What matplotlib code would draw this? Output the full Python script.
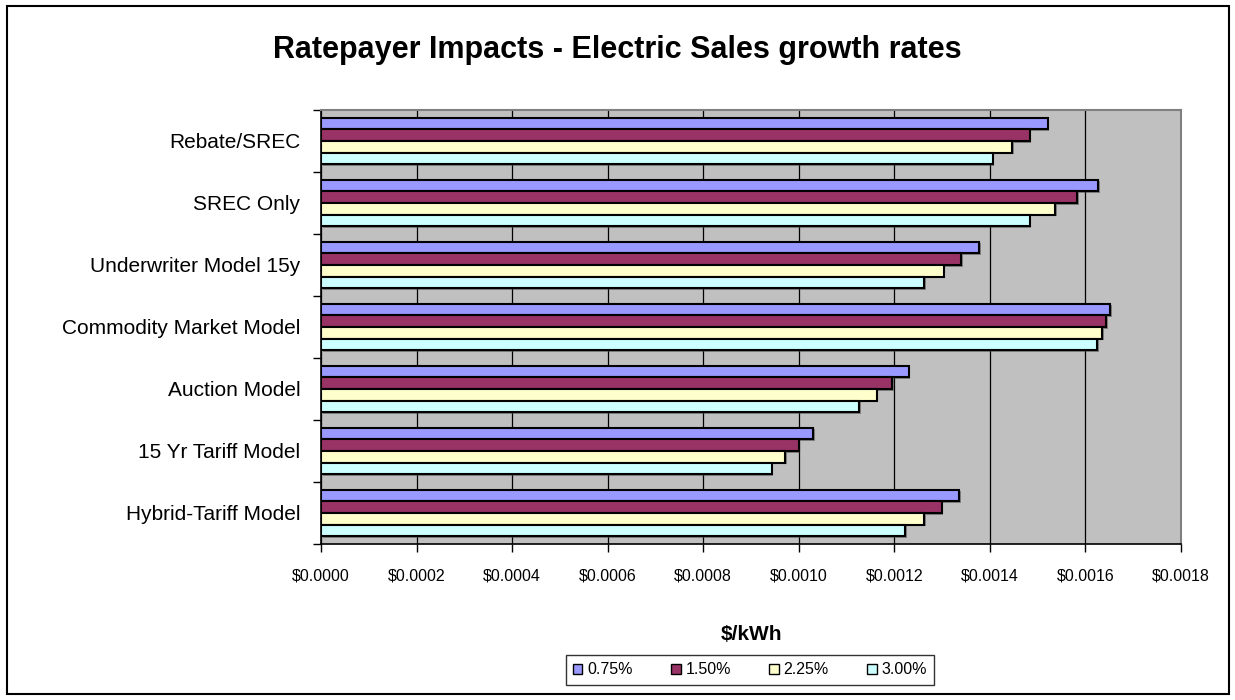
import matplotlib
matplotlib.use("Agg")
import matplotlib.pyplot as plt
import numpy as np
from matplotlib.patches import Patch, Rectangle
from matplotlib.ticker import FuncFormatter, MultipleLocator, FixedLocator
import matplotlib.patheffects as pe

plt.rcParams['font.family'] = ['Liberation Sans', 'DejaVu Sans']

categories = ["Rebate/SREC", "SREC Only", "Underwriter Model 15y",
              "Commodity Market Model", "Auction Model", "15 Yr Tariff Model",
              "Hybrid-Tariff Model"]
series_labels = ["0.75%", "1.50%", "2.25%", "3.00%"]
rate_075 = [0.001521, 0.001627, 0.001377, 0.001652, 0.001230, 0.001030, 0.001336]
rate_150 = [0.001483, 0.001583, 0.001340, 0.001644, 0.001196, 0.001000, 0.001299]
rate_225 = [0.001447, 0.001537, 0.001303, 0.001635, 0.001163, 0.000972, 0.001262]
rate_300 = [0.001406, 0.001483, 0.001262, 0.001624, 0.001127, 0.000943, 0.001222]
colors = ["#9999FF", "#993366", "#FFFFCC", "#CCFFFF"]

W, H = 1235, 700
fig = plt.figure(figsize=(W / 100, H / 100), dpi=100)
fig.patch.set_facecolor("white")

# outer chart frame
fig.patches.append(Rectangle((7 / W, 6 / H), (1229 - 7) / W, (694 - 6) / H,
                             transform=fig.transFigure, fill=False,
                             edgecolor="black", linewidth=1.5))

ax = fig.add_axes([321 / W, 156 / H, 860 / W, 434 / H])
ax.set_facecolor("#C0C0C0")

n_cat = len(categories)
bar_h = 0.188
series = [rate_075, rate_150, rate_225, rate_300]
centers = np.arange(n_cat) + 0.5
shadow = [pe.SimplePatchShadow(offset=(1.2, -1.2), shadow_rgbFace="#404040", alpha=0.5),
          pe.Normal()]
for i, (vals, col) in enumerate(zip(series, colors)):
    y = centers + (i - 1.5) * bar_h
    bars = ax.barh(y, vals, height=bar_h, color=col, edgecolor="black",
                   linewidth=1.5, zorder=3)
    for b in bars:
        b.set_path_effects(shadow)

ax.set_xlim(0, 0.0018)
ax.set_ylim(n_cat, 0)

ax.xaxis.set_major_locator(MultipleLocator(0.0002))
ax.xaxis.set_major_formatter(FuncFormatter(lambda v, p: f"${v:.4f}"))
ax.grid(axis="x", color="black", linewidth=0.9, zorder=1)
ax.set_axisbelow(True)

ax.yaxis.set_major_locator(FixedLocator(np.arange(n_cat + 1)))
ax.yaxis.set_major_formatter(FuncFormatter(lambda v, p: ""))
ax.yaxis.set_minor_locator(FixedLocator(centers))
ax.set_yticklabels(categories, minor=True)
ax.tick_params(axis="y", which="minor", length=0, pad=15, labelsize=15)
ax.tick_params(axis="y", which="major", length=6, width=1, direction="out")
ax.tick_params(axis="x", which="major", length=6, width=1, direction="out",
               labelsize=11.5, pad=12)

for side in ("top", "right"):
    ax.spines[side].set_color("#808080")
    ax.spines[side].set_linewidth(1.5)
for side in ("left", "bottom"):
    ax.spines[side].set_color("black")
    ax.spines[side].set_linewidth(1.2)

fig.text(617 / W, 1 - 50 / H, "Ratepayer Impacts - Electric Sales growth rates",
         ha="center", va="center", fontsize=22, fontweight="bold")
fig.text(751 / W, 1 - 635 / H, "$/kWh", ha="center", va="center",
         fontsize=15, fontweight="bold")

handles = [Patch(facecolor=c, edgecolor="black", linewidth=1) for c in colors]
leg = fig.legend(handles, series_labels, loc="center",
                 bbox_to_anchor=(750 / W, 1 - 670 / H), ncol=4, frameon=True,
                 fancybox=False, edgecolor="black", fontsize=11.5,
                 handlelength=0.6, handleheight=0.6, handletextpad=0.3,
                 columnspacing=2.4, borderpad=0.45)
leg.get_frame().set_linewidth(1.0)

fig.savefig("out.png", dpi=100, facecolor="white")
